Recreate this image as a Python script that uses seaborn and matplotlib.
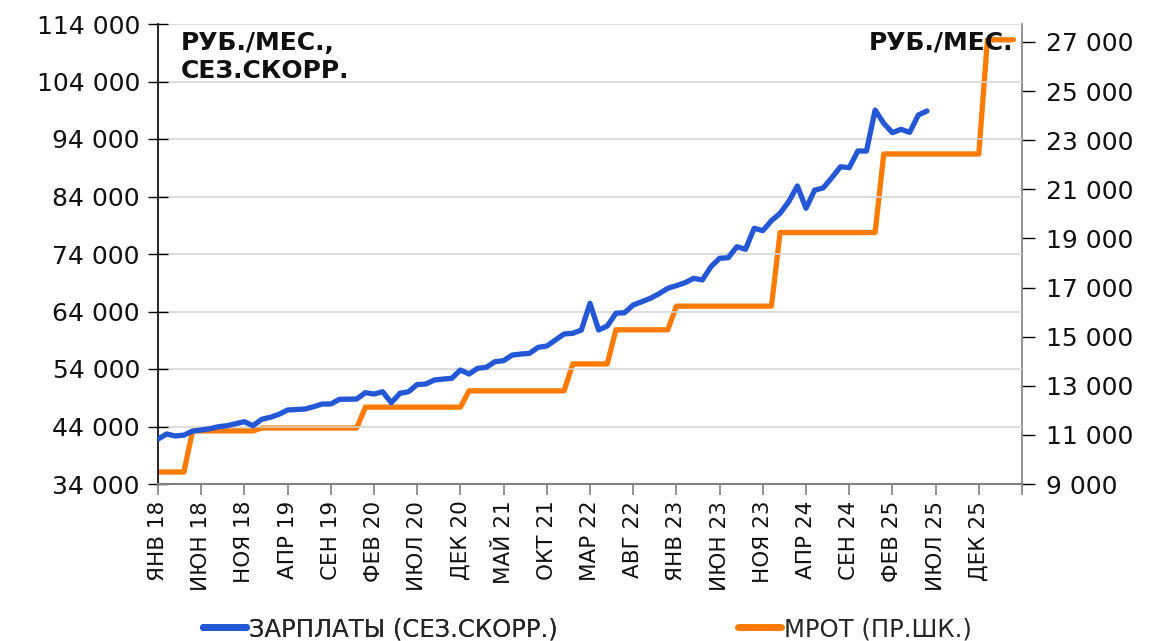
import numpy as np
import pandas as pd
import matplotlib
matplotlib.use("Agg")
import matplotlib.pyplot as plt
import seaborn as sns
from matplotlib.lines import Line2D
from matplotlib.ticker import FuncFormatter, FixedLocator

# ---- data ----
month_abbr = ["ЯНВ", "ФЕВ", "МАР", "АПР", "МАЙ", "ИЮН",
              "ИЮЛ", "АВГ", "СЕН", "ОКТ", "НОЯ", "ДЕК"]
start_year = 2018

wages = [41800, 42700, 42350, 42500, 43200, 43400, 43600, 43970, 44140, 44500,
         44830, 44140, 45250, 45600, 46120, 46870, 46950, 47040, 47440, 47910,
         47910, 48730, 48750, 48780, 49880, 49650, 50050, 48140, 49770, 50050,
         51300, 51390, 52090, 52250, 52380, 53830, 53130, 54120, 54290, 55270,
         55450, 56430, 56600, 56730, 57770, 58000, 59040, 60090, 60200, 60780,
         65420, 60780, 61480, 63690, 63790, 65130, 65700, 66300, 67100, 68030,
         68500, 69010, 69770, 69480, 71790, 73250, 73360, 75270, 74820, 78470,
         78060, 79790, 81080, 83100, 85830, 81950, 85100, 85500, 87300, 89180,
         89010, 91910, 91910, 99040, 96720, 95100, 95680, 95160, 98170, 98870]

mrot = ([9489] * 4 + [11163] * 8 + [11280] * 12 + [12130] * 12 + [12792] * 12
        + [13890] * 5 + [15279] * 7 + [16242] * 12 + [19242] * 12
        + [22440] * 12 + [27093] * 4)

wage_label = "ЗАРПЛАТЫ (СЕЗ.СКОРР.)"
mrot_label = "МРОТ (ПР.ШК.)"
left_title = "РУБ./МЕС.,\nСЕЗ.СКОРР."
right_title = "РУБ./МЕС."

left_ticks = [34000, 44000, 54000, 64000, 74000, 84000, 94000, 104000, 114000]
right_ticks = [9000, 11000, 13000, 15000, 17000, 19000, 21000, 23000, 25000, 27000]

# ---- frames ----
df_w = pd.DataFrame({"i": np.arange(len(wages)), "v": wages})
df_m = pd.DataFrame({"i": np.arange(len(mrot)), "v": mrot})

def month_label(i):
    return f"{month_abbr[i % 12]} {(start_year + i // 12) % 100:02d}"

tick_pos = list(range(0, 101, 5))
tick_lab = [month_label(i) if i <= 95 else "" for i in tick_pos]

# ---- style ----
sns.set_theme(style="white")
plt.rcParams["font.family"] = ["DejaVu Sans"]

BLUE = "#2457D6"
ORANGE = "#FF7B00"
TXT = "#111111"

fig = plt.figure(figsize=(11.52, 6.41), dpi=100)
ax = fig.add_axes([158 / 1152, 1 - 484 / 641, (1022 - 158) / 1152, (484 - 24) / 641])
ax2 = ax.twinx()

sns.lineplot(data=df_w, x="i", y="v", ax=ax, color=BLUE, lw=3.8,
             solid_capstyle="round", solid_joinstyle="round", zorder=5)
sns.lineplot(data=df_m, x="i", y="v", ax=ax2, color=ORANGE, lw=3.8,
             solid_capstyle="round", solid_joinstyle="round", zorder=5)

ax.set_zorder(ax2.get_zorder() + 1)
ax.patch.set_visible(False)

ax.set_xlim(0, 100)
ax.set_ylim(34000, 114000)
ax2.set_ylim(9000, 27733)

fmt = FuncFormatter(lambda v, p: f"{int(v):,}".replace(",", " "))
ax.yaxis.set_major_locator(FixedLocator(left_ticks))
ax.yaxis.set_major_formatter(fmt)
ax2.yaxis.set_major_locator(FixedLocator(right_ticks))
ax2.yaxis.set_major_formatter(fmt)

ax.set_xticks(tick_pos)
ax.set_xticklabels(tick_lab, rotation=90)

ax.grid(axis="y", color="#D3D3D3", lw=1.1)
ax.set_axisbelow(True)
for a in (ax, ax2):
    a.set_xlabel("")
    a.set_ylabel("")
    a.spines["top"].set_visible(False)

ax.spines["left"].set_color("black")
ax.spines["left"].set_linewidth(1.2)
ax.spines["bottom"].set_color("#808080")
ax.spines["bottom"].set_linewidth(1.5)
ax.spines["right"].set_visible(False)
ax2.spines["left"].set_visible(False)
ax2.spines["bottom"].set_visible(False)
ax2.spines["right"].set_color("#808080")
ax2.spines["right"].set_linewidth(1.2)

ax.tick_params(axis="y", which="both", direction="inout", length=14, width=1,
               color="black", labelsize=18, pad=6, left=True, labelcolor=TXT)
ax.tick_params(axis="x", direction="out", length=8, width=1.2, color="#808080",
               labelsize=15.5, pad=4, bottom=True, labelcolor=TXT)
ax2.tick_params(axis="y", direction="out", length=9, width=1, color="black",
                labelsize=18, pad=8, right=True, labelcolor=TXT)

ax.text(0.026, 0.985, left_title, transform=ax.transAxes, ha="left", va="top",
        fontsize=18, fontweight="bold", linespacing=1.2, color=TXT)
ax.text(0.99, 0.985, right_title, transform=ax.transAxes, ha="right", va="top",
        fontsize=18, fontweight="bold", color=TXT)

# legends
h1 = Line2D([], [], color=BLUE, lw=5, solid_capstyle="round")
h2 = Line2D([], [], color=ORANGE, lw=5, solid_capstyle="round")
leg1 = fig.legend([h1], [wage_label], loc="center left",
                  bbox_to_anchor=(203 / 1152, 1 - 629 / 641), frameon=False,
                  prop={"family": "DejaVu Sans", "size": 17.5},
                  handlelength=1.75, handletextpad=0.15,
                  borderaxespad=0, borderpad=0)
leg2 = fig.legend([h2], [mrot_label], loc="center left",
                  bbox_to_anchor=(738 / 1152, 1 - 629 / 641), frameon=False,
                  prop={"family": "DejaVu Sans", "size": 17.5},
                  handlelength=1.75, handletextpad=0.15,
                  borderaxespad=0, borderpad=0)
fig.add_artist(leg1)

fig.savefig("out.png", dpi=100)
